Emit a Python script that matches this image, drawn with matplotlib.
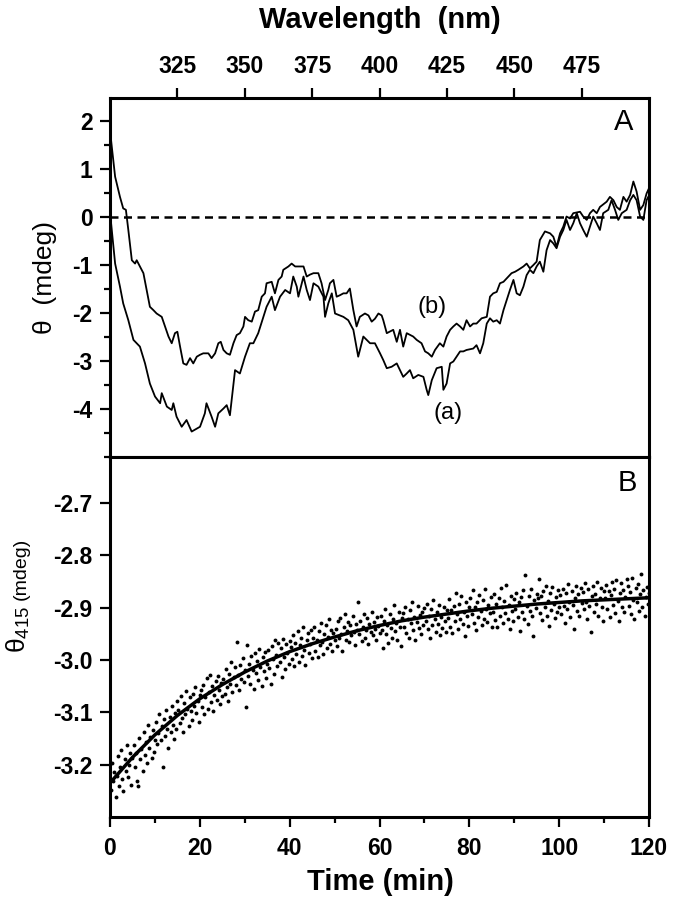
import numpy as np
import matplotlib
matplotlib.use('Agg')
import matplotlib.pyplot as plt
from matplotlib.ticker import MultipleLocator, FixedLocator

plt.rcParams['font.family'] = ['Liberation Sans', 'DejaVu Sans']
plt.rcParams['axes.unicode_minus'] = False
plt.rcParams['mathtext.fontset'] = 'custom'
plt.rcParams['mathtext.rm'] = 'Liberation Sans'
plt.rcParams['mathtext.it'] = 'Liberation Sans'

# ---- panel A : CD spectra, theta (mdeg) vs wavelength (nm) ----
wl_b = [300.0, 301.9, 303.7, 304.9, 305.9, 306.8, 308.1, 309.3, 309.9, 311.1, 312.4, 313.6, 314.8,
        316.1, 317.3, 319.2, 320.4, 321.7, 322.9, 324.1, 325.0, 326.0, 327.2, 328.4, 329.7, 330.9,
        332.2, 333.4, 334.6, 336.5, 337.7, 339.0, 340.2, 341.1, 342.1, 343.3, 344.5, 345.8, 347.0,
        348.2, 349.5, 350.1, 351.3, 352.6, 353.8, 355.0, 356.3, 357.5, 358.1, 360.0, 361.2, 362.5,
        363.7, 364.3, 366.2, 367.4, 368.7, 369.9, 371.8, 373.0, 374.2, 375.5, 377.3, 378.5, 379.8,
        381.0, 381.6, 382.9, 384.1, 385.3, 386.6, 387.8, 389.0, 390.3, 391.5, 392.7, 394.6, 395.9,
        397.1, 398.3, 399.6, 400.8,
        401.4, 402.7, 405.1, 406.4, 407.6, 408.8, 410.1, 412.5, 413.8, 415.6, 416.9, 418.1, 419.4,
        420.6, 422.4, 423.7, 424.9, 426.2, 427.4, 428.6, 429.9, 431.1, 432.3, 433.6, 434.8, 436.0,
        437.9, 439.8, 441.0, 442.2, 443.5, 444.7, 446.0, 447.8, 449.0, 450.3, 451.5, 453.4, 454.6,
        455.8, 457.1, 458.3, 459.5, 461.4, 463.3, 464.5, 465.7, 467.0, 468.2, 469.4, 470.7, 471.9,
        474.4, 475.6, 476.9, 478.1, 479.3, 480.6, 481.8, 484.3, 485.5, 486.8, 488.0, 489.2, 490.5,
        491.7, 493.0, 494.2, 495.4, 496.7, 497.9, 499.1, 500.0]
theta_b = [1.80, 0.84, 0.42, 0.18, 0.15, -0.27, -0.90, -0.97, -0.90, -1.03, -1.17, -1.52, -1.87,
           -1.94, -2.01, -2.08, -2.28, -2.49, -2.63, -2.42, -2.39, -2.70, -3.05, -3.08, -2.94, -3.05,
           -2.91, -2.87, -2.84, -2.84, -2.94, -2.84, -2.63, -2.60, -2.77, -2.84, -2.87, -2.63, -2.46,
           -2.42, -2.28, -2.08, -2.15, -2.18, -1.97, -1.94, -1.66, -1.59, -1.38, -1.35, -1.59, -1.31,
           -1.24, -1.10, -1.03, -0.97, -1.03, -1.03, -1.03, -1.24, -1.20, -1.17, -1.17, -1.38, -1.73,
           -1.52, -1.38, -1.31, -1.66, -1.63, -1.59, -1.59, -1.49, -1.94, -2.28, -2.08, -2.01, -2.05,
           -2.18, -2.12, -2.01, -2.05,
           -2.15, -2.42, -2.35, -2.60, -2.35, -2.70, -2.42, -2.49, -2.56, -2.63, -2.80, -2.84, -2.91,
           -2.77, -2.63, -2.70, -2.49, -2.35, -2.28, -2.22, -2.28, -2.35, -2.15, -2.28, -2.22, -2.22,
           -2.11, -2.08, -1.66, -1.59, -1.56, -1.38, -1.35, -1.24, -1.17, -1.14, -1.10, -1.03, -0.97,
           -1.07, -1.00, -0.93, -0.48, -0.30, -0.34, -0.41, -0.62, -0.34, -0.20, 0.01, -0.03, 0.08,
           0.11, 0.01, -0.06, 0.08, 0.15, 0.08, 0.21, 0.32, 0.42, 0.35, 0.21, 0.15, 0.42,
           0.32, 0.46, 0.74, 0.53, 0.15, 0.25, 0.49, 0.60]

wl_a = [300.0, 301.9, 303.7, 304.9, 306.8, 308.7, 309.9, 311.1, 313.0, 314.8, 316.7, 318.6, 319.2,
        321.1, 322.9, 323.5, 324.7, 326.6, 328.4, 330.3, 333.4, 335.2, 335.8, 337.7, 339.0, 340.2,
        342.1, 343.3, 344.5, 346.4, 348.2, 350.1, 351.9, 353.2, 355.0, 356.9, 358.1, 360.0, 361.2,
        363.1, 365.0, 366.8, 368.0, 369.3, 369.9, 371.8, 373.0, 374.2, 375.5, 377.3, 379.2, 379.8,
        381.0, 382.3, 383.5, 386.6, 388.4, 390.3, 392.1, 394.0, 396.5, 398.3, 400.2,
        401.4, 402.7, 404.5, 406.4, 407.6, 408.8, 410.1, 411.3, 412.5, 414.4, 416.3, 417.5, 418.1,
        419.4, 421.2, 423.1, 423.7, 424.9, 426.2, 427.4, 428.6, 429.9, 431.1, 432.3, 434.8, 436.0,
        437.3, 438.5, 439.8, 441.0, 442.2, 443.5, 444.7, 446.0, 447.2, 448.4, 449.7, 450.9, 452.1,
        453.4, 454.6, 455.8, 457.1, 458.3, 459.5, 460.8, 462.0, 463.3, 464.5, 465.7, 467.0, 468.2,
        469.4, 470.7, 471.9, 473.2, 474.4, 475.6, 476.9, 478.1, 479.3, 480.6, 481.8, 483.0, 484.9,
        486.1, 487.4, 488.6, 489.9, 491.7, 493.0, 494.2, 495.4, 496.7, 497.9, 499.1, 500.0]
theta_a = [0.10, -0.97, -1.45, -1.80, -2.15, -2.56, -2.63, -2.70, -3.05, -3.47, -3.74, -3.88, -3.67,
           -3.95, -4.02, -3.88, -4.16, -4.37, -4.23, -4.47, -4.37, -4.09, -3.88, -4.16, -4.37, -4.09,
           -3.99, -3.92, -4.13, -3.19, -3.26, -2.91, -2.63, -2.63, -2.42, -2.08, -1.87, -1.66, -1.94,
           -1.66, -1.52, -1.59, -1.24, -1.45, -1.66, -1.24, -1.52, -1.73, -1.38, -1.45, -1.66, -2.08,
           -1.80, -1.59, -2.01, -2.08, -2.15, -2.35, -2.91, -2.49, -2.63, -2.63, -2.84,
           -2.98, -3.15, -3.12, -3.05, -3.19, -3.33, -3.26, -3.19, -3.36, -3.29, -3.33, -3.60, -3.71,
           -3.40, -3.15, -3.12, -3.60, -3.47, -3.05, -3.01, -2.91, -2.80, -2.80, -2.77, -2.74, -2.67,
           -2.84, -2.63, -2.22, -2.11, -2.18, -2.15, -2.22, -1.94, -1.73, -1.52, -1.31, -1.59, -1.63,
           -1.45, -1.21, -1.10, -1.17, -1.03, -0.93, -1.14, -0.69, -0.48, -0.55, -0.65, -0.41, -0.27,
           -0.06, -0.27, -0.13, 0.08, -0.13, -0.27, -0.41, -0.20, 0.01, -0.13, -0.27, 0.08, 0.15,
           0.35, 0.15, -0.06, 0.08, 0.15, 0.35, 0.46, 0.35, 0.01, -0.06, 0.35, 0.45]

wl_ticks = [325, 350, 375, 400, 425, 450, 475]

# ---- panel B : theta at 415 nm vs time (min), one reading every 0.25 min ----
time_min = np.arange(1, 481) * 0.25
theta415 = [
    -3.248, -3.196, -3.231, -3.214, -3.262, -3.221, -3.183, -3.240, -3.205, -3.172,
    -3.228, -3.251, -3.190, -3.212, -3.163, -3.224, -3.201, -3.178, -3.238, -3.187,
    -3.162, -3.204, -3.178, -3.232, -3.241, -3.149, -3.190, -3.171, -3.213, -3.138,
    -3.182, -3.157, -3.196, -3.125, -3.169, -3.148, -3.187, -3.133, -3.176, -3.152,
    -3.118, -3.161, -3.140, -3.103, -3.152, -3.127, -3.204, -3.112, -3.145, -3.096,
    -3.131, -3.168, -3.109, -3.138, -3.087, -3.124, -3.150, -3.101, -3.132, -3.078,
    -3.095, -3.121, -3.068, -3.110, -3.137, -3.082, -3.104, -3.059, -3.093, -3.126,
    -3.071, -3.098, -3.115, -3.064, -3.087, -3.052, -3.101, -3.079, -3.118, -3.066,
    -3.058, -3.089, -3.047, -3.104, -3.071, -3.035, -3.093, -3.062, -3.028, -3.081,
    -3.049, -3.098, -3.066, -3.040, -3.077, -3.031, -3.058, -3.085, -3.043, -3.069,
    -3.037, -3.064, -3.018, -3.052, -3.079, -3.026, -3.045, -3.004, -3.061, -3.033,
    -3.013, -3.048, -2.966, -3.029, -3.057, -3.010, -3.036, -2.996, -3.042, -3.020,
    -3.089, -2.971, -3.031, -3.008, -3.046, -2.993, -3.019, -3.055, -2.987, -3.024,
    -3.002, -3.038, -2.979, -3.014, -3.049, -2.995, -3.021, -2.984, -3.034, -3.007,
    -2.981, -3.016, -3.045, -2.973, -2.998, -3.027, -2.962, -2.990, -3.011, -2.968,
    -3.003, -2.977, -3.032, -2.959, -2.994, -3.018, -2.970, -2.986, -3.008, -2.964,
    -2.975, -2.998, -2.953, -3.012, -2.967, -2.989, -2.944, -3.004, -2.971, -2.958,
    -2.993, -2.936, -2.980, -3.009, -2.962, -2.949, -2.986, -2.969, -2.942, -2.997,
    -2.958, -2.937, -2.983, -2.961, -2.994, -2.945, -2.972, -2.929, -2.966, -2.988,
    -2.951, -2.934, -2.977, -2.956, -2.921, -2.969, -2.943, -2.982, -2.948, -2.962,
    -2.940, -2.973, -2.926, -2.958, -2.919, -2.951, -2.982, -2.937, -2.912, -2.962,
    -2.945, -2.928, -2.966, -2.934, -2.953, -2.916, -2.947, -2.971, -2.931, -2.942,
    -2.889, -2.951, -2.925, -2.964, -2.937, -2.913, -2.958, -2.942, -2.920, -2.969,
    -2.931, -2.946, -2.908, -2.953, -2.927, -2.940, -2.961, -2.918, -2.935, -2.949,
    -2.915, -2.942, -2.977, -2.926, -2.903, -2.951, -2.934, -2.968, -2.912, -2.939,
    -2.958, -2.921, -2.895, -2.945, -2.930, -2.962, -2.909, -2.937, -2.973, -2.920,
    -2.911, -2.936, -2.899, -2.948, -2.922, -2.957, -2.904, -2.930, -2.889, -2.943,
    -2.918, -2.962, -2.927, -2.896, -2.939, -2.914, -2.951, -2.908, -2.933, -2.901,
    -2.926, -2.893, -2.941, -2.915, -2.958, -2.902, -2.934, -2.886, -2.921, -2.947,
    -2.909, -2.931, -2.895, -2.953, -2.917, -2.939, -2.898, -2.925, -2.946, -2.904,
    -2.919, -2.883, -2.937, -2.905, -2.949, -2.897, -2.926, -2.871, -2.912, -2.940,
    -2.893, -2.921, -2.877, -2.931, -2.908, -2.955, -2.889, -2.916, -2.935, -2.898,
    -2.882, -2.913, -2.867, -2.929, -2.898, -2.942, -2.890, -2.917, -2.875, -2.906,
    -2.934, -2.886, -2.921, -2.865, -2.903, -2.928, -2.894, -2.911, -2.879, -2.937,
    -2.908, -2.874, -2.924, -2.892, -2.937, -2.881, -2.915, -2.862, -2.899, -2.929,
    -2.887, -2.910, -2.856, -2.921, -2.895, -2.940, -2.877, -2.906, -2.926, -2.884,
    -2.903, -2.871, -2.918, -2.889, -2.945, -2.880, -2.909, -2.866, -2.922, -2.838,
    -2.896, -2.931, -2.878, -2.907, -2.864, -2.915, -2.955, -2.886, -2.901, -2.873,
    -2.882, -2.846, -2.911, -2.877, -2.924, -2.868, -2.898, -2.859, -2.916, -2.887,
    -2.935, -2.872, -2.904, -2.861, -2.893, -2.920, -2.879, -2.908, -2.866, -2.899,
    -2.876, -2.912, -2.864, -2.897, -2.929, -2.871, -2.903, -2.855, -2.889, -2.918,
    -2.868, -2.894, -2.940, -2.881, -2.858, -2.906, -2.873, -2.915, -2.862, -2.891,
    -2.870, -2.903, -2.852, -2.889, -2.922, -2.865, -2.896, -2.947, -2.877, -2.858,
    -2.909, -2.874, -2.893, -2.851, -2.915, -2.882, -2.863, -2.899, -2.926, -2.869,
    -2.881, -2.857, -2.902, -2.868, -2.918, -2.876, -2.850, -2.894, -2.864, -2.911,
    -2.847, -2.887, -2.925, -2.872, -2.853, -2.899, -2.866, -2.908, -2.879, -2.845,
    -2.858, -2.896, -2.870, -2.912, -2.843, -2.885, -2.921, -2.862, -2.890, -2.855,
    -2.907, -2.874, -2.836, -2.898, -2.867, -2.915, -2.879, -2.860, -2.893, -2.871,
]

# fitted curve
fit_time = [0, 5, 10, 15, 20, 25, 30, 35, 40, 45, 50, 55, 60,
            65, 70, 75, 80, 85, 90, 95, 100, 105, 110, 115, 120]
fit_theta = [-3.235, -3.186, -3.143, -3.106, -3.074, -3.047, -3.023, -3.002, -2.984, -2.969,
             -2.956, -2.944, -2.934, -2.925, -2.918, -2.912, -2.906, -2.901, -2.897, -2.893,
             -2.890, -2.887, -2.885, -2.883, -2.881]

b_yticks = [-3.2, -3.1, -3.0, -2.9, -2.8, -2.7]

W, H = 674, 908
fig = plt.figure(figsize=(W / 100, H / 100), dpi=100)

def px(x0, y0, x1, y1):
    return [x0 / W, 1 - y1 / H, (x1 - x0) / W, (y1 - y0) / H]

ax_a = fig.add_axes(px(110, 98, 649, 457))
ax_b = fig.add_axes(px(110, 457, 649, 817))

tick_font = dict(fontsize=16.5, fontweight='bold')

for ax in (ax_a, ax_b):
    for sp in ax.spines.values():
        sp.set_linewidth(2.2)
    ax.tick_params(which='major', direction='out', length=7.5, width=1.6)
    ax.tick_params(which='minor', direction='out', length=4.5, width=1.6)

# panel A
ax_a.plot(wl_b, theta_b, color='black', lw=1.3)
ax_a.plot(wl_a, theta_a, color='black', lw=1.3)
ax_a.axhline(0, color='black', lw=1.8, dashes=(3.2, 2.2))
ax_a.set_xlim(300, 500)
ax_a.set_ylim(-5, 2.48)
ax_a.xaxis.tick_top()
ax_a.set_xticks(wl_ticks)
ax_a.set_xticklabels([str(v) for v in wl_ticks], **tick_font)
ax_a.yaxis.set_major_locator(FixedLocator([-4, -3, -2, -1, 0, 1, 2]))
ax_a.yaxis.set_minor_locator(MultipleLocator(0.5))
ax_a.set_yticklabels([str(v) for v in [-4, -3, -2, -1, 0, 1, 2]], **tick_font)
ax_a.tick_params(axis='x', pad=7)
ax_a.tick_params(axis='y', pad=5)
ax_a.text(419.5, -1.875, '(b)', fontsize=17, ha='center', va='center')
ax_a.text(425.4, -4.08, '(a)', fontsize=17, ha='center', va='center')

# panel B
ax_b.plot(time_min, theta415, 'o', color='black', ms=2.8, mew=0)
ax_b.plot(fit_time, fit_theta, color='black', lw=2.5)
ax_b.set_xlim(0, 120)
ax_b.set_ylim(-3.3, -2.612)
ax_b.xaxis.set_major_locator(MultipleLocator(20))
ax_b.xaxis.set_minor_locator(MultipleLocator(10))
ax_b.set_xticks([0, 20, 40, 60, 80, 100, 120])
ax_b.set_xticklabels(['0', '20', '40', '60', '80', '100', '120'], **tick_font)
ax_b.set_yticks(b_yticks)
ax_b.set_yticklabels(['%.1f' % v for v in b_yticks], **tick_font)
ax_b.tick_params(axis='x', pad=7)
ax_b.tick_params(axis='y', pad=5)

# titles and labels
fig.text(380 / W, 1 - 20 / H, 'Wavelength  (nm)', fontsize=21, fontweight='bold',
         ha='center', va='center')
fig.text(380 / W, 1 - 882 / H, 'Time (min)', fontsize=21, fontweight='bold',
         ha='center', va='center')
fig.text(624 / W, 1 - 122 / H, 'A', fontsize=21, ha='center', va='center')
fig.text(627 / W, 1 - 483 / H, 'B', fontsize=21, ha='center', va='center')

fig.text(45 / W, 1 - 277 / H, 'θ  (mdeg)', fontsize=19, rotation=90,
         ha='center', va='center')
fig.text(26 / W, 1 - 606 / H, r'$\mathregular{\theta_{415}}$', fontsize=19, rotation=90,
         rotation_mode='anchor', ha='right', va='baseline')
fig.text(26 / W, 1 - 600 / H, '(mdeg)', fontsize=14, rotation=90,
         rotation_mode='anchor', ha='left', va='baseline')

fig.savefig('out.png', dpi=100)
